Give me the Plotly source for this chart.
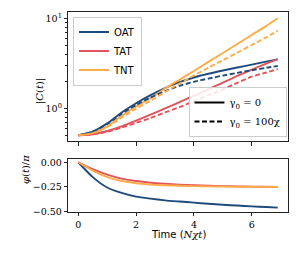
import plotly.graph_objects as go

# ---- data ----
t = [0, 0.5, 1, 1.5, 2, 2.5, 3, 3.5, 4, 4.5, 5, 5.5, 6, 6.5, 6.9]

series_names = ["OAT", "TAT", "TNT"]
series_colors = ["#1f4a7c", "#e2545c", "#ffab47"]

C_solid = {
    "OAT": [0.5, 0.55, 0.68, 0.9, 1.14, 1.4, 1.68, 1.95, 2.2, 2.42, 2.63, 2.84, 3.06, 3.3, 3.5],
    "TAT": [0.5, 0.515, 0.56, 0.63, 0.73, 0.85, 1.0, 1.17, 1.38, 1.62, 1.93, 2.29, 2.69, 3.13, 3.53],
    "TNT": [0.5, 0.53, 0.63, 0.82, 1.05, 1.3, 1.66, 2.08, 2.6, 3.28, 4.12, 5.19, 6.53, 8.2, 10.0],
}
C_dashed = {
    "OAT": [0.5, 0.55, 0.67, 0.87, 1.09, 1.32, 1.55, 1.78, 1.97, 2.14, 2.31, 2.48, 2.65, 2.82, 2.95],
    "TAT": [0.5, 0.515, 0.55, 0.61, 0.69, 0.78, 0.9, 1.03, 1.2, 1.4, 1.62, 1.92, 2.25, 2.5, 2.73],
    "TNT": [0.5, 0.53, 0.62, 0.79, 0.99, 1.21, 1.52, 1.88, 2.32, 2.83, 3.42, 4.15, 5.05, 6.15, 7.3],
}
phase = {
    "OAT": [0, -0.15, -0.255, -0.31, -0.347, -0.368, -0.385, -0.397, -0.408, -0.42, -0.43, -0.438, -0.446, -0.453, -0.459],
    "TAT": [0, -0.07, -0.125, -0.165, -0.19, -0.207, -0.218, -0.226, -0.232, -0.237, -0.241, -0.244, -0.246, -0.248, -0.249],
    "TNT": [0, -0.085, -0.15, -0.19, -0.212, -0.225, -0.233, -0.238, -0.241, -0.244, -0.246, -0.247, -0.248, -0.249, -0.25],
}

style_labels = ["γ<sub>0</sub> = 0", "γ<sub>0</sub> = 100χ"]

x_ticks = [0, 2, 4, 6]
y_log_ticks = [1, 10]
y_log_ticktext = ["10<sup>0</sup>", "10<sup>1</sup>"]
y_log_minor = [0.5, 0.6, 0.7, 0.8, 0.9, 2, 3, 4, 5, 6, 7, 8, 9]
phase_ticks = [0.0, -0.25, -0.5]
phase_ticktext = ["0.00", "−0.25", "−0.50"]

# ---- figure ----
W, H = 300, 260
SERIF = "DejaVu Serif"
SANS = "DejaVu Sans"
LW = 1.9
DASH = "5px,2.5px"

fig = go.Figure()

def line(col, dash="solid"):
    return dict(color=col, width=LW, dash=dash, shape="spline", smoothing=0.6)

for name, col in zip(series_names, series_colors):
    fig.add_trace(go.Scatter(x=t, y=C_solid[name], mode="lines", name=name,
                             line=line(col), xaxis="x", yaxis="y", legend="legend"))
for name, col in zip(series_names, series_colors):
    fig.add_trace(go.Scatter(x=t, y=C_dashed[name], mode="lines", showlegend=False,
                             line=line(col, DASH), xaxis="x", yaxis="y"))
for name, col in zip(series_names, series_colors):
    fig.add_trace(go.Scatter(x=t, y=phase[name], mode="lines", showlegend=False,
                             line=line(col), xaxis="x2", yaxis="y2"))

# style legend entries
for lab, dash in zip(style_labels, ["solid", DASH]):
    fig.add_trace(go.Scatter(x=[None], y=[None], mode="lines", name=lab,
                             line=dict(color="black", width=LW, dash=dash),
                             xaxis="x", yaxis="y", legend="legend2"))

def px_x(p):
    return p / W

def px_y(p):
    return 1 - p / H

x_dom = [px_x(68.3), px_x(287.7)]
axis_common = dict(showline=True, linecolor="#222", linewidth=1, mirror=True,
                   ticks="outside", ticklen=3.5, tickwidth=1, tickcolor="#222",
                   showgrid=False, zeroline=False, automargin=False,
                   tickfont=dict(family=SERIF, size=9.5, color="black"))

fig.update_layout(
    width=W, height=H,
    margin=dict(l=0, r=0, t=0, b=0),
    paper_bgcolor="white", plot_bgcolor="white",
    xaxis=dict(domain=x_dom, anchor="y", range=[-0.345, 7.245], tickvals=x_ticks,
               showticklabels=False, **axis_common),
    yaxis=dict(domain=[px_y(141), px_y(12.3)], anchor="x", type="log",
               range=[-0.363, 1.067], tickvals=y_log_ticks, ticktext=y_log_ticktext,
               minor=dict(tickvals=y_log_minor, ticks="outside", ticklen=2, tickcolor="#222"),
               **axis_common),
    xaxis2=dict(domain=x_dom, anchor="y2", range=[-0.345, 7.245], tickvals=x_ticks,
                **axis_common),
    yaxis2=dict(domain=[px_y(211.7), px_y(159.3)], anchor="x2", range=[-0.5, 0.03],
                tickvals=phase_ticks, ticktext=phase_ticktext, **axis_common),
    legend=dict(x=px_x(73), y=px_y(16.5), xanchor="left", yanchor="top",
                bgcolor="rgba(255,255,255,0.85)", bordercolor="#cccccc", borderwidth=1,
                font=dict(family=SANS, size=10, color="black"),
                itemwidth=30, tracegroupgap=0),
    legend2=dict(x=px_x(286.5), y=px_y(137), xanchor="right", yanchor="bottom",
                 bgcolor="rgba(255,255,255,0.85)", bordercolor="#cccccc", borderwidth=1,
                 font=dict(family=SERIF, size=10, color="black"),
                 itemwidth=30, tracegroupgap=0),
    showlegend=True,
)

fig.add_annotation(text="|<i>C</i>(<i>t</i>)|", x=px_x(32), y=px_y(76), xref="paper", yref="paper",
                   showarrow=False, textangle=-90, font=dict(family=SERIF, size=10, color="black"))
fig.add_annotation(text="<i>φ</i>(<i>t</i>)/<i>π</i>", x=px_x(18), y=px_y(186), xref="paper", yref="paper",
                   showarrow=False, textangle=-90, font=dict(family=SERIF, size=10, color="black"))
fig.add_annotation(text="Time (<span style='font-family:DejaVu Serif'><i>Nχt</i></span>)",
                   x=px_x(178), y=px_y(242), xref="paper", yref="paper",
                   showarrow=False, font=dict(family=SANS, size=10, color="black"))

fig.write_html("out.html", config={"displayModeBar": False},
               post_script="document.body.style.margin='0';")
